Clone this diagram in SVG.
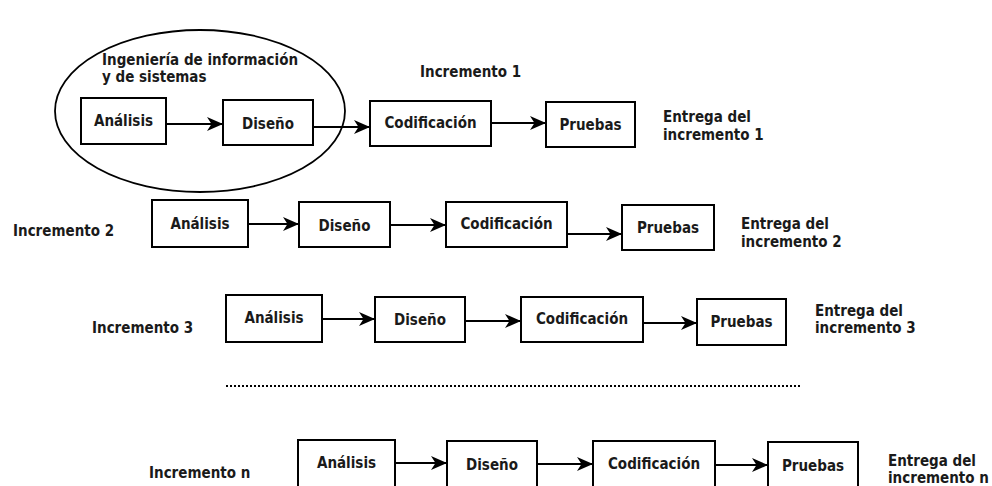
<svg xmlns="http://www.w3.org/2000/svg" width="992" height="486" viewBox="0 0 992 486">
  <style>
    .box { fill: #ffffff; stroke: #000000; stroke-width: 2; }
    .lbl { font-family: "DejaVu Sans Condensed", "DejaVu Sans", Verdana, sans-serif; font-weight: bold; font-size: 15px; fill: #1a1a1a; }
    .mid { text-anchor: middle; }
    .link { stroke: #000000; stroke-width: 2; fill: none; marker-end: url(#head); }
  </style>
  <defs>
    <marker id="head" viewBox="0 0 16 14" refX="16" refY="7" markerWidth="16" markerHeight="14" markerUnits="userSpaceOnUse" orient="auto">
      <path d="M0,0 L16,7 L0,14 L4.5,7 z" fill="#000000"/>
    </marker>
  </defs>
  <rect x="0" y="0" width="992" height="486" fill="#ffffff"/>

  <!-- Increment 1, first two phases enclosed -->
  <g id="scope-ingenieria">
    <ellipse cx="200" cy="111" rx="145" ry="81" fill="none" stroke="#000000" stroke-width="1.8"/>
    <text class="lbl" x="102" y="65">Ingeniería de información</text>
    <text class="lbl" x="102" y="82">y de sistemas</text>
  </g>
  <g id="label-inc1"><text class="lbl" x="420" y="77">Incremento 1</text></g>
  <g id="inc1-analisis"><rect class="box" x="81" y="98" width="85" height="46"/><text class="lbl mid" x="123.5" y="126">Análisis</text></g>
  <g id="inc1-diseno"><rect class="box" x="223" y="100" width="90" height="45"/><text class="lbl mid" x="268" y="129">Diseño</text></g>
  <g id="inc1-codificacion"><rect class="box" x="370" y="101" width="121" height="45"/><text class="lbl mid" x="430.5" y="128">Codificación</text></g>
  <g id="inc1-pruebas"><rect class="box" x="546" y="102" width="89" height="45"/><text class="lbl mid" x="590.5" y="130">Pruebas</text></g>
  <g id="inc1-entrega"><text class="lbl" x="663" y="122">Entrega del</text><text class="lbl" x="663" y="140">incremento 1</text></g>

  <!-- Increment 2 -->
  <g id="label-inc2"><text class="lbl" x="13" y="236">Incremento 2</text></g>
  <g id="inc2-analisis"><rect class="box" x="152" y="200" width="96" height="47"/><text class="lbl mid" x="200" y="229">Análisis</text></g>
  <g id="inc2-diseno"><rect class="box" x="299" y="202" width="91" height="45"/><text class="lbl mid" x="344.5" y="231">Diseño</text></g>
  <g id="inc2-codificacion"><rect class="box" x="446" y="202" width="121" height="45"/><text class="lbl mid" x="506.5" y="229">Codificación</text></g>
  <g id="inc2-pruebas"><rect class="box" x="622" y="205" width="92" height="45"/><text class="lbl mid" x="668" y="233">Pruebas</text></g>
  <g id="inc2-entrega"><text class="lbl" x="741" y="229">Entrega del</text><text class="lbl" x="741" y="247">incremento 2</text></g>

  <!-- Increment 3 -->
  <g id="label-inc3"><text class="lbl" x="92" y="333">Incremento 3</text></g>
  <g id="inc3-analisis"><rect class="box" x="226" y="295" width="96" height="47"/><text class="lbl mid" x="274" y="323">Análisis</text></g>
  <g id="inc3-diseno"><rect class="box" x="375" y="297" width="90" height="45"/><text class="lbl mid" x="420" y="325">Diseño</text></g>
  <g id="inc3-codificacion"><rect class="box" x="521" y="297" width="122" height="45"/><text class="lbl mid" x="582" y="324">Codificación</text></g>
  <g id="inc3-pruebas"><rect class="box" x="697" y="299" width="89" height="46"/><text class="lbl mid" x="741.5" y="327">Pruebas</text></g>
  <g id="inc3-entrega"><text class="lbl" x="815" y="316">Entrega del</text><text class="lbl" x="815" y="333">incremento 3</text></g>

  <!-- ellipsis between increments -->
  <line x1="226" y1="386" x2="801" y2="386" stroke="#000000" stroke-width="2" stroke-dasharray="2 2"/>

  <!-- Increment n -->
  <g id="label-incn"><text class="lbl" x="149" y="478">Incremento n</text></g>
  <g id="incn-analisis"><rect class="box" x="298" y="440" width="97" height="50"/><text class="lbl mid" x="346.5" y="468">Análisis</text></g>
  <g id="incn-diseno"><rect class="box" x="447" y="441" width="90" height="50"/><text class="lbl mid" x="492" y="470">Diseño</text></g>
  <g id="incn-codificacion"><rect class="box" x="593" y="441" width="122" height="50"/><text class="lbl mid" x="654" y="469">Codificación</text></g>
  <g id="incn-pruebas"><rect class="box" x="768" y="442" width="90" height="50"/><text class="lbl mid" x="813" y="471">Pruebas</text></g>
  <g id="incn-entrega"><text class="lbl" x="888" y="466">Entrega del</text><text class="lbl" x="888" y="483">incremento n</text></g>

  <!-- connectors -->
  <g id="connectors">
    <line class="link" x1="166" y1="124" x2="223" y2="124"/>
    <line class="link" x1="313" y1="127" x2="370" y2="127"/>
    <line class="link" x1="491" y1="123" x2="546" y2="123"/>

    <line class="link" x1="248" y1="224" x2="299" y2="224"/>
    <line class="link" x1="390" y1="225" x2="446" y2="225"/>
    <line class="link" x1="567" y1="234" x2="622" y2="234"/>

    <line class="link" x1="322" y1="319" x2="375" y2="319"/>
    <line class="link" x1="465" y1="321" x2="521" y2="321"/>
    <line class="link" x1="643" y1="323" x2="697" y2="323"/>

    <line class="link" x1="395" y1="463" x2="447" y2="463"/>
    <line class="link" x1="537" y1="464" x2="593" y2="464"/>
    <line class="link" x1="715" y1="465" x2="768" y2="465"/>
  </g>
</svg>
